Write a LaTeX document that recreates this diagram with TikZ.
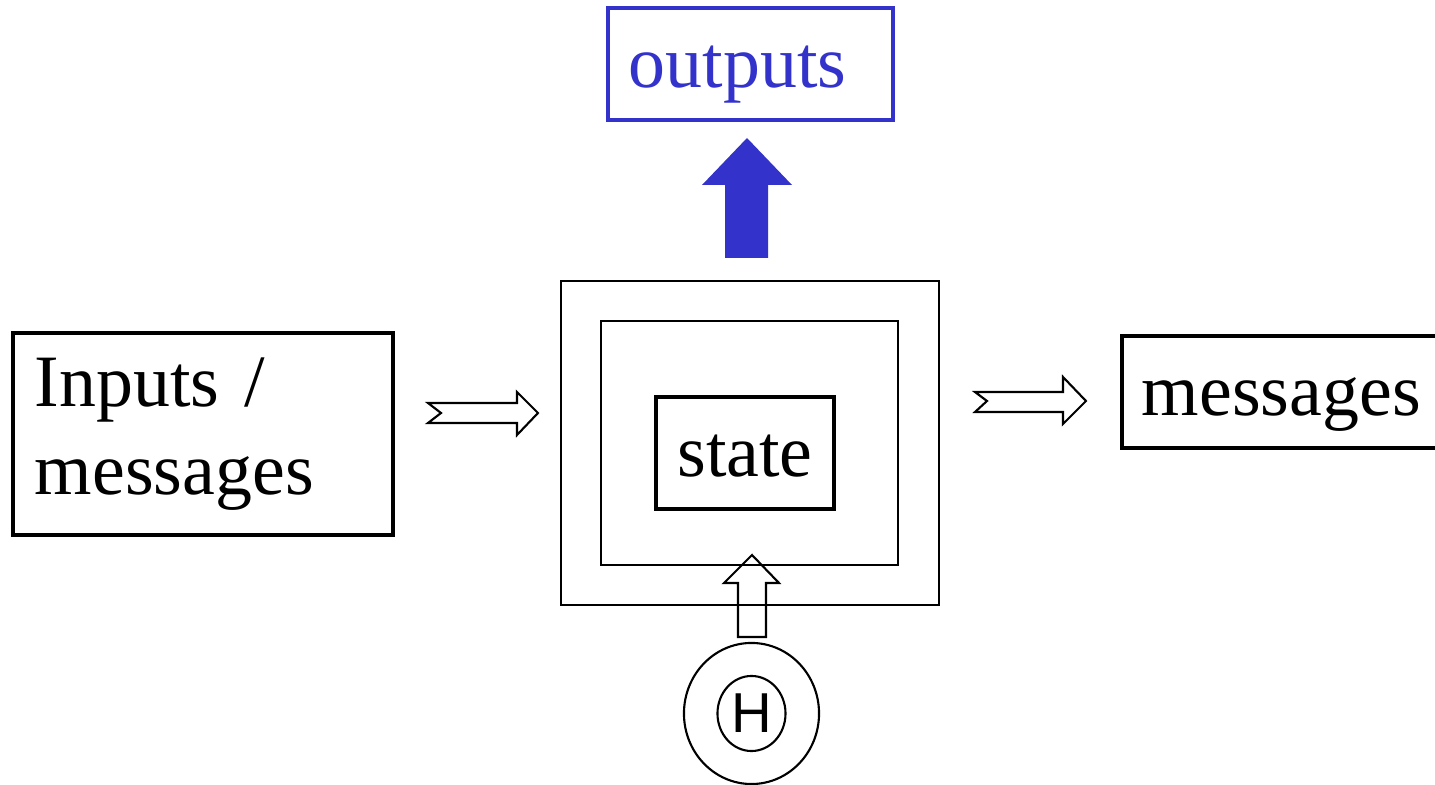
\documentclass[tikz,border=0pt]{standalone}
\usepackage{fontspec}
\setmainfont{Liberation Serif}
\newfontfamily\hfont{Liberation Sans}
\usepackage{tikz}
\usetikzlibrary{shapes.geometric}
\definecolor{outblue}{RGB}{51,51,204}

\begin{document}
\begin{tikzpicture}[x=0.01cm,y=-0.01cm]
    \useasboundingbox (0,0) rectangle (1435,785);

        % boxes, placed by their centres
        \begin{scope}[every node/.style={draw,inner sep=0pt,font=\fontsize{21}{25}\selectfont}]
        \node[line width=1.2pt,minimum width=3.8cm,minimum height=2.02cm,
              text width=3.36cm,inner xsep=0.22cm,align=left] (inp) at (203,434) {Inputs /\\messages};
        \node[line width=0.6pt,minimum width=3.78cm,minimum height=3.24cm] (outer) at (750,443) {};
        \node[line width=0.6pt,minimum width=2.97cm,minimum height=2.44cm] (inner) at (749.5,443) {};
        \node[line width=1.2pt,minimum width=1.78cm,minimum height=1.12cm,
              text height=0.6cm,text depth=0.14cm] (st) at (745,453) {state};
        \node[line width=1.2pt,draw=outblue,text=outblue,minimum height=1.12cm,
              text width=2.43cm,inner xsep=0.21cm,align=left,
              text height=0.6cm,text depth=0.14cm] (out) at (750.5,64) {outputs};
        \node[line width=1.2pt,minimum height=1.12cm,
              text width=3.2cm,inner xsep=0.2cm,align=left,
              text height=0.6cm,text depth=0.14cm] (msg) at (1302,392) {messages};
        \end{scope}

        % the H circle
        \node[draw,ellipse,line width=0.6pt,minimum width=1.35cm,minimum height=1.41cm,inner sep=0pt] (hout) at (751.5,713.5) {};
        \node[draw,ellipse,line width=0.6pt,minimum width=0.68cm,minimum height=0.75cm,inner sep=0pt,
              font=\hfont\fontsize{16}{16}\selectfont] (hin) at (hout.center) {H};

        % hollow arrows
        \begin{scope}[line width=0.6pt,line join=miter]
        \draw (428,403) -- (517,403) -- (517,392) -- (538,413) -- (517,435) -- (517,423)
              -- (428,423) -- (441,413) -- cycle;
        \draw (975,392) -- (1063,392) -- (1063,377) -- (1086,401) -- (1063,424) -- (1063,412)
              -- (975,412) -- (987,401) -- cycle;
        \draw (738,637) -- (738,583) -- (724,583) -- (752,555) -- (779,583) -- (766,583)
              -- (766,637) -- cycle;
        \end{scope}

        % solid arrow to the outputs
        \fill[outblue] (725,258) -- (725,185) -- (702,185) -- (747,138) -- (792,185)
              -- (768,185) -- (768,258) -- cycle;

\end{tikzpicture}
\end{document}
